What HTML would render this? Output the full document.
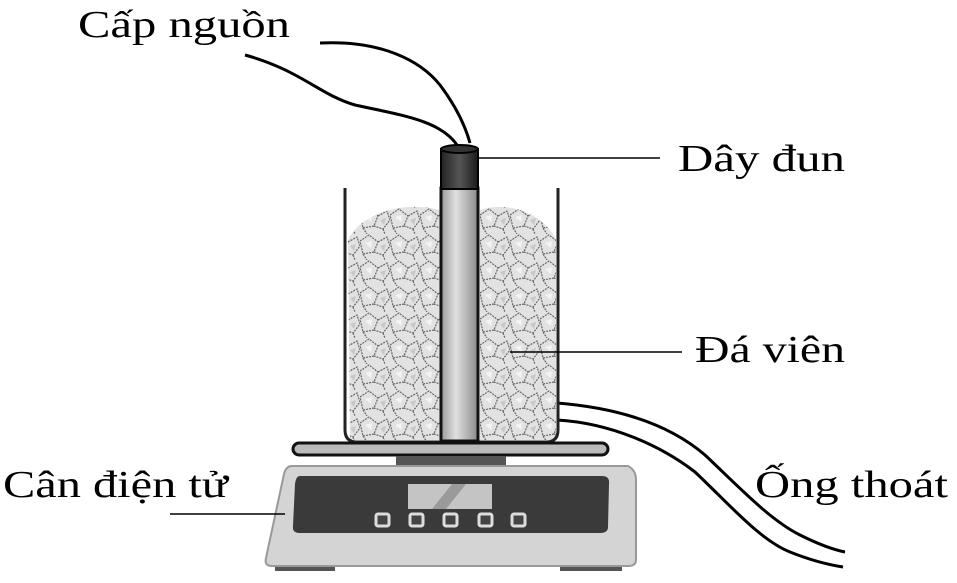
<!DOCTYPE html>
<html><head><meta charset="utf-8"><style>
html,body{margin:0;padding:0;background:#fff;}
svg{display:block}
text{font-family:"Liberation Serif",serif;font-size:38px;fill:#000}
</style></head><body>
<svg width="957" height="583" viewBox="0 0 957 583" xmlns="http://www.w3.org/2000/svg">
<defs>
<pattern id="ice" width="30" height="26" patternUnits="userSpaceOnUse">
<rect width="30" height="26" fill="#e2e2e2"/>
<path d="M0 7 L9 1 L18 8 L14 18 L3 20 Z M18 8 L27 3 L30 12 L23 21 L14 18 M3 20 L7 26 M23 21 L25 26" fill="none" stroke="#666" stroke-width="1.2" stroke-dasharray="2 1"/>
<path d="M5 9 L12 7 L11 14 Z" fill="#f4f4f4"/>
<path d="M20 12 L26 10 L24 17 Z" fill="#c8c8c8"/>
</pattern>
<linearGradient id="tube" x1="0" x2="1"><stop offset="0" stop-color="#9a9a9a"/><stop offset="0.4" stop-color="#e0e0e0"/><stop offset="1" stop-color="#8a8a8a"/></linearGradient>
<linearGradient id="cap" x1="0" x2="1"><stop offset="0" stop-color="#222"/><stop offset="0.5" stop-color="#555"/><stop offset="1" stop-color="#1a1a1a"/></linearGradient>
</defs>
<path d="M245 55 C300 70 320 95 355 105 C400 115 440 120 457 145" fill="none" stroke="#000" stroke-width="3"/>
<path d="M320 43 C380 40 420 60 440 85 C455 105 465 125 470 143" fill="none" stroke="#000" stroke-width="3"/>
<path d="M557 403 C620 408 670 425 705 455 C740 488 770 520 800 535 C820 545 835 550 845 552" fill="none" stroke="#000" stroke-width="3"/>
<path d="M557 420 C610 423 660 445 695 472 C730 505 760 540 790 552 C810 560 830 565 843 567" fill="none" stroke="#000" stroke-width="3"/>
<path d="M348 240 C360 215 400 200 440 210 L440 440 L350 440 Z" fill="url(#ice)"/>
<path d="M480 210 C510 200 545 215 556 240 L556 440 L480 440 Z" fill="url(#ice)"/>
<path d="M345 188 L345 430 Q345 442 357 442 L546 442 Q558 442 558 430 L558 188" fill="none" stroke="#222" stroke-width="3"/>
<rect x="441" y="188" width="37" height="253" fill="url(#tube)" stroke="#111" stroke-width="3"/>
<rect x="441" y="149" width="37" height="40" fill="url(#cap)" stroke="#000" stroke-width="2"/>
<ellipse cx="459.5" cy="149" rx="18.5" ry="4" fill="#333" stroke="#000" stroke-width="2"/>
<rect x="293" y="443" width="315" height="12" rx="6" fill="#bbb" stroke="#111" stroke-width="3"/>
<rect x="396" y="456" width="110" height="10" fill="#555"/>
<rect x="275" y="562" width="60" height="9" fill="#555"/>
<rect x="560" y="562" width="62" height="9" fill="#555"/>
<path d="M292 466 L628 466 Q636 470 636 480 L636 560 Q636 566 628 566 L272 566 Q264 566 266 558 L284 474 Q286 466 292 466 Z" fill="#d4d4d4" stroke="#999" stroke-width="2"/>
<path d="M300 476 L602 476 Q610 476 609 484 L608 527 Q608 533 600 533 L300 533 Q292 533 293 526 L295 484 Q296 476 300 476 Z" fill="#3a3a3a"/>
<rect x="408" y="484" width="84" height="25" fill="#c4c4c4"/>
<path d="M432 509 L452 484 L466 484 L446 509 Z" fill="#9a9a9a"/>
<g fill="#444" stroke="#ddd" stroke-width="3">
<rect x="376" y="514" width="13" height="12" rx="2"/>
<rect x="410" y="514" width="13" height="12" rx="2"/>
<rect x="444" y="514" width="13" height="12" rx="2"/>
<rect x="479" y="514" width="13" height="12" rx="2"/>
<rect x="512" y="514" width="13" height="12" rx="2"/>
</g>
<line x1="478" y1="158" x2="660" y2="158" stroke="#000" stroke-width="1.5"/>
<line x1="510" y1="352" x2="682" y2="352" stroke="#000" stroke-width="1.5"/>
<line x1="170" y1="514" x2="285" y2="514" stroke="#000" stroke-width="1.5"/>
<text x="78" y="37" textLength="212" lengthAdjust="spacingAndGlyphs">Cấp nguồn</text>
<text x="678" y="171" textLength="167" lengthAdjust="spacingAndGlyphs">Dây đun</text>
<text x="695" y="362" textLength="150" lengthAdjust="spacingAndGlyphs">Đá viên</text>
<text x="3" y="497" textLength="225" lengthAdjust="spacingAndGlyphs">Cân điện tử</text>
<text x="755" y="497" textLength="193" lengthAdjust="spacingAndGlyphs">Ống thoát</text>
</svg>
</body></html>
